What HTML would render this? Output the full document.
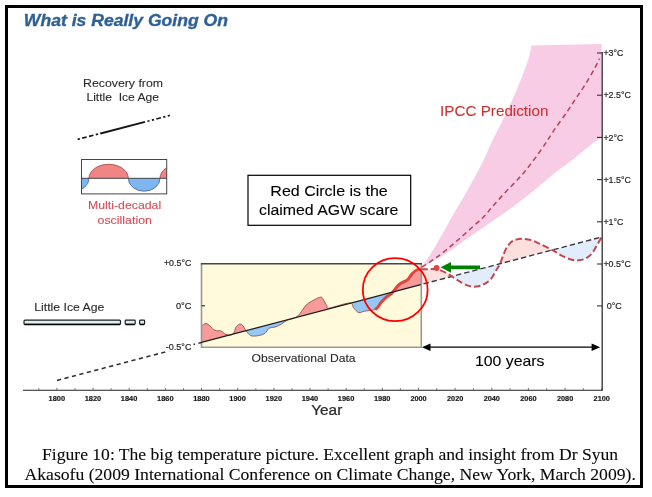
<!DOCTYPE html>
<html><head><meta charset="utf-8"><title>What is Really Going On</title>
<style>
html,body{margin:0;padding:0;background:#fff;}
body{width:652px;height:497px;overflow:hidden;position:relative;}
#frame{position:absolute;left:5px;top:5px;width:632px;height:477px;border:3px solid #000;background:#fff;}
svg{position:absolute;left:0;top:0;}
svg text{font-family:"Liberation Sans",Arial,Helvetica,sans-serif;}
svg text.sf{font-family:"Liberation Serif","Times New Roman",Times,serif;}
</style></head><body>
<div id="frame"></div>
<svg width="652" height="497" viewBox="0 0 652 497">
<defs>
<clipPath id="above"><polygon points="0,0 652,0 652,223.8 0,395.5"/></clipPath>
<clipPath id="below"><polygon points="0,497 652,497 652,223.8 0,395.5"/></clipPath>
<clipPath id="lga"><rect x="81.5" y="159.5" width="85.2" height="18.8"/></clipPath>
<clipPath id="lgb"><rect x="81.5" y="178.3" width="85.2" height="15.2"/></clipPath>
<filter id="soft" x="0" y="0" width="652" height="497" filterUnits="userSpaceOnUse"><feGaussianBlur stdDeviation="0.45"/></filter>
</defs>
<g filter="url(#soft)">

<!-- legend: recovery -->
<line x1="77.6" y1="139.4" x2="101" y2="133.3" stroke="#151515" stroke-width="1.7" stroke-dasharray="2.4 2.4 4.6 2.4 4.6 2.4 2.4 2.4"/>
<line x1="100.5" y1="133.45" x2="145" y2="121.9" stroke="#151515" stroke-width="2"/>
<line x1="147.4" y1="121.3" x2="170" y2="115.4" stroke="#151515" stroke-width="1.7" stroke-dasharray="2.2 2.4 2.2 2.4 4.8 2.4 2.2 2.4 2.2 2.4"/>

<!-- legend: oscillation -->
<g>
<g clip-path="url(#lgb)" stroke-width="0.9" fill="#7db6f0" stroke="#4f6ca6">
<ellipse cx="73.2" cy="178.3" rx="15.8" ry="12.9"/>
<ellipse cx="144.15" cy="178.3" rx="15.85" ry="12.9"/>
</g>
<g clip-path="url(#lga)" stroke-width="0.9" fill="#f08585" stroke="#a84c4c">
<ellipse cx="108.65" cy="178.3" rx="19.65" ry="14"/>
<ellipse cx="179.65" cy="178.3" rx="19.65" ry="14"/>
</g>
<rect x="81.5" y="159.5" width="85.2" height="34.4" fill="none" stroke="#444" stroke-width="1"/>
<line x1="81.5" y1="178.3" x2="166.7" y2="178.3" stroke="#444" stroke-width="1"/>
</g>

<!-- IPCC fan -->
<path d="M421.7 266.8C422.6 265.5 427.9 258.1 429.6 255.5C431.3 252.9 434.6 247.4 436.4 244.4C438.2 241.4 442.8 233.4 444.7 230.0C446.6 226.6 450.6 219.0 452.9 215.0C455.2 211.0 461.6 200.6 464.2 196.0C466.8 191.4 473.1 180.2 475.4 176.0C477.7 171.8 481.6 164.1 483.6 160.0C485.6 155.9 490.4 144.9 492.5 140.5C494.6 136.1 499.5 126.8 501.8 122.1C504.1 117.4 510.4 104.0 512.2 100.0C514.0 96.0 516.3 91.0 517.5 88.0C518.7 85.0 521.8 77.1 522.9 74.4C524.0 71.7 525.9 66.6 526.6 64.5C527.3 62.4 528.7 58.2 529.3 56.0C529.9 53.8 531.2 46.7 531.5 45.5L601.7 44 L601.7 137.6 L601.7 137.6C600.5 138.4 593.9 142.5 591.3 144.5C588.7 146.5 582.0 152.1 579.1 154.4C576.2 156.7 569.2 162.4 566.8 164.2C564.4 166.0 561.5 167.7 558.5 170.0C555.5 172.3 544.7 181.4 541.3 184.3C537.9 187.2 532.0 192.2 529.1 194.5C526.2 196.8 519.7 201.5 516.8 203.7C513.9 205.9 506.7 211.4 504.5 213.0C502.3 214.6 500.0 216.0 497.8 217.5C495.6 219.0 488.4 224.0 485.5 226.0C482.6 228.0 476.1 232.6 473.2 234.6C470.3 236.6 463.9 241.2 461.0 243.2C458.1 245.2 451.6 249.9 448.7 251.8C445.8 253.7 439.5 257.3 436.4 259.2C433.2 261.1 423.4 266.8 421.7 267.8Z" fill="#f8cce4"/>

<!-- yellow box -->
<rect x="201.5" y="263.7" width="219.8" height="83.4" fill="#fffadb"/>

<!-- future oscillation fills -->
<path d="M421.3 269.3C422.6 269.3 426.3 269.2 429.0 269.2C431.7 269.2 434.6 268.6 437.6 269.3C440.6 270.0 444.0 271.9 446.8 273.4C449.6 274.8 451.8 276.5 454.2 278.0C456.6 279.5 459.1 281.3 461.5 282.6C463.9 283.9 466.4 285.2 468.9 285.9C471.4 286.6 473.9 286.9 476.3 286.6C478.8 286.4 481.2 285.7 483.6 284.4C486.1 283.1 488.9 281.3 491.0 278.9C493.1 276.4 495.0 272.3 496.5 269.7C498.0 267.1 498.7 266.7 500.2 263.3C501.7 259.9 503.9 252.9 505.7 249.4C507.5 245.9 509.5 243.7 511.2 242.1C512.9 240.5 514.2 240.2 516.0 239.6C517.8 239.0 519.6 238.6 522.1 238.7C524.6 238.8 528.2 239.2 531.3 240.1C534.4 241.0 536.8 242.4 540.5 244.2C544.2 245.9 549.7 248.6 553.4 250.6C557.1 252.6 559.5 254.6 562.6 256.1C565.7 257.6 569.3 259.1 571.8 259.8C574.2 260.5 575.1 260.5 577.3 260.4C579.4 260.2 582.2 260.1 584.7 258.9C587.2 257.7 589.9 255.8 592.0 253.4C594.1 251.0 595.8 247.0 597.5 244.2C599.2 241.4 601.2 238.0 602.0 236.8L602.0 236.9 L421.3 284.5 Z" fill="#fbe0de" clip-path="url(#above)"/>
<path d="M421.3 269.3C422.6 269.3 426.3 269.2 429.0 269.2C431.7 269.2 434.6 268.6 437.6 269.3C440.6 270.0 444.0 271.9 446.8 273.4C449.6 274.8 451.8 276.5 454.2 278.0C456.6 279.5 459.1 281.3 461.5 282.6C463.9 283.9 466.4 285.2 468.9 285.9C471.4 286.6 473.9 286.9 476.3 286.6C478.8 286.4 481.2 285.7 483.6 284.4C486.1 283.1 488.9 281.3 491.0 278.9C493.1 276.4 495.0 272.3 496.5 269.7C498.0 267.1 498.7 266.7 500.2 263.3C501.7 259.9 503.9 252.9 505.7 249.4C507.5 245.9 509.5 243.7 511.2 242.1C512.9 240.5 514.2 240.2 516.0 239.6C517.8 239.0 519.6 238.6 522.1 238.7C524.6 238.8 528.2 239.2 531.3 240.1C534.4 241.0 536.8 242.4 540.5 244.2C544.2 245.9 549.7 248.6 553.4 250.6C557.1 252.6 559.5 254.6 562.6 256.1C565.7 257.6 569.3 259.1 571.8 259.8C574.2 260.5 575.1 260.5 577.3 260.4C579.4 260.2 582.2 260.1 584.7 258.9C587.2 257.7 589.9 255.8 592.0 253.4C594.1 251.0 595.8 247.0 597.5 244.2C599.2 241.4 601.2 238.0 602.0 236.8L602.0 236.9 L421.3 284.5 Z" fill="#e1edfa" clip-path="url(#below)"/>

<!-- observed fills -->
<path d="M201.5 326.0C202.2 325.6 204.6 323.5 206.0 323.5C207.4 323.5 208.5 324.8 210.0 326.0C211.5 327.2 213.4 329.7 215.2 330.5C217.0 331.3 219.1 330.3 220.8 330.9C222.5 331.5 223.9 333.5 225.4 334.2C226.9 334.9 228.6 335.2 230.0 335.1C231.4 335.0 232.5 334.7 233.6 333.3C234.7 331.9 235.3 328.1 236.4 326.5C237.5 324.9 239.0 324.1 240.1 324.0C241.2 323.9 242.3 324.9 243.2 326.0C244.1 327.1 244.7 329.2 245.6 330.5C246.5 331.8 247.3 332.7 248.4 333.6C249.5 334.5 250.2 335.7 252.0 336.0C253.8 336.3 257.2 335.9 259.4 335.5C261.6 335.1 263.5 334.4 265.0 333.3C266.5 332.2 267.4 329.7 268.6 328.7C269.8 327.7 271.1 327.7 272.3 327.4C273.5 327.1 274.5 327.4 276.0 326.8C277.5 326.2 279.7 325.1 281.5 324.0C283.3 322.9 284.7 321.5 287.0 320.4C289.3 319.3 293.1 318.8 295.3 317.6C297.5 316.5 298.1 315.6 300.0 313.5C301.9 311.4 303.9 307.2 306.4 304.8C308.9 302.4 312.7 300.7 315.0 299.4C317.3 298.1 319.1 297.4 320.4 297.2C321.6 297.0 321.4 296.9 322.5 298.3C323.6 299.7 325.7 304.2 326.8 305.8C327.9 307.4 325.2 308.7 329.0 308.2C332.8 307.7 345.3 303.0 349.4 303.0C353.5 303.0 352.1 306.4 353.7 308.0C355.3 309.6 357.2 312.2 359.0 312.7C360.8 313.2 361.7 311.7 364.4 311.2C367.1 310.7 373.0 310.4 375.3 309.6C377.6 308.9 377.3 307.9 378.3 306.7C379.3 305.4 380.1 303.6 381.4 302.1C382.7 300.6 384.2 299.0 386.0 297.5C387.8 296.0 390.1 294.9 392.1 292.9C394.2 290.9 396.8 286.9 398.3 285.3C399.8 283.7 399.8 283.9 401.3 283.0C402.8 282.1 405.7 281.4 407.5 279.9C409.3 278.4 410.6 275.4 412.1 273.8C413.6 272.2 415.2 270.8 416.7 270.0C418.2 269.2 420.5 269.3 421.3 269.2L421.3 284.5 L201.5 342.4 Z" fill="#f69a9a" clip-path="url(#above)"/>
<path d="M201.5 326.0C202.2 325.6 204.6 323.5 206.0 323.5C207.4 323.5 208.5 324.8 210.0 326.0C211.5 327.2 213.4 329.7 215.2 330.5C217.0 331.3 219.1 330.3 220.8 330.9C222.5 331.5 223.9 333.5 225.4 334.2C226.9 334.9 228.6 335.2 230.0 335.1C231.4 335.0 232.5 334.7 233.6 333.3C234.7 331.9 235.3 328.1 236.4 326.5C237.5 324.9 239.0 324.1 240.1 324.0C241.2 323.9 242.3 324.9 243.2 326.0C244.1 327.1 244.7 329.2 245.6 330.5C246.5 331.8 247.3 332.7 248.4 333.6C249.5 334.5 250.2 335.7 252.0 336.0C253.8 336.3 257.2 335.9 259.4 335.5C261.6 335.1 263.5 334.4 265.0 333.3C266.5 332.2 267.4 329.7 268.6 328.7C269.8 327.7 271.1 327.7 272.3 327.4C273.5 327.1 274.5 327.4 276.0 326.8C277.5 326.2 279.7 325.1 281.5 324.0C283.3 322.9 284.7 321.5 287.0 320.4C289.3 319.3 293.1 318.8 295.3 317.6C297.5 316.5 298.1 315.6 300.0 313.5C301.9 311.4 303.9 307.2 306.4 304.8C308.9 302.4 312.7 300.7 315.0 299.4C317.3 298.1 319.1 297.4 320.4 297.2C321.6 297.0 321.4 296.9 322.5 298.3C323.6 299.7 325.7 304.2 326.8 305.8C327.9 307.4 325.2 308.7 329.0 308.2C332.8 307.7 345.3 303.0 349.4 303.0C353.5 303.0 352.1 306.4 353.7 308.0C355.3 309.6 357.2 312.2 359.0 312.7C360.8 313.2 361.7 311.7 364.4 311.2C367.1 310.7 373.0 310.4 375.3 309.6C377.6 308.9 377.3 307.9 378.3 306.7C379.3 305.4 380.1 303.6 381.4 302.1C382.7 300.6 384.2 299.0 386.0 297.5C387.8 296.0 390.1 294.9 392.1 292.9C394.2 290.9 396.8 286.9 398.3 285.3C399.8 283.7 399.8 283.9 401.3 283.0C402.8 282.1 405.7 281.4 407.5 279.9C409.3 278.4 410.6 275.4 412.1 273.8C413.6 272.2 415.2 270.8 416.7 270.0C418.2 269.2 420.5 269.3 421.3 269.2L421.3 284.5 L201.5 342.4 Z" fill="#94c6f6" clip-path="url(#below)"/>
<path d="M201.5 326.0C202.2 325.6 204.6 323.5 206.0 323.5C207.4 323.5 208.5 324.8 210.0 326.0C211.5 327.2 213.4 329.7 215.2 330.5C217.0 331.3 219.1 330.3 220.8 330.9C222.5 331.5 223.9 333.5 225.4 334.2C226.9 334.9 228.6 335.2 230.0 335.1C231.4 335.0 232.5 334.7 233.6 333.3C234.7 331.9 235.3 328.1 236.4 326.5C237.5 324.9 239.0 324.1 240.1 324.0C241.2 323.9 242.3 324.9 243.2 326.0C244.1 327.1 244.7 329.2 245.6 330.5C246.5 331.8 247.3 332.7 248.4 333.6C249.5 334.5 250.2 335.7 252.0 336.0C253.8 336.3 257.2 335.9 259.4 335.5C261.6 335.1 263.5 334.4 265.0 333.3C266.5 332.2 267.4 329.7 268.6 328.7C269.8 327.7 271.1 327.7 272.3 327.4C273.5 327.1 274.5 327.4 276.0 326.8C277.5 326.2 279.7 325.1 281.5 324.0C283.3 322.9 284.7 321.5 287.0 320.4C289.3 319.3 293.1 318.8 295.3 317.6C297.5 316.5 298.1 315.6 300.0 313.5C301.9 311.4 303.9 307.2 306.4 304.8C308.9 302.4 312.7 300.7 315.0 299.4C317.3 298.1 319.1 297.4 320.4 297.2C321.6 297.0 321.4 296.9 322.5 298.3C323.6 299.7 325.7 304.2 326.8 305.8C327.9 307.4 325.2 308.7 329.0 308.2C332.8 307.7 345.3 303.0 349.4 303.0C353.5 303.0 352.1 306.4 353.7 308.0C355.3 309.6 357.2 312.2 359.0 312.7C360.8 313.2 361.7 311.7 364.4 311.2C367.1 310.7 373.0 310.4 375.3 309.6C377.6 308.9 377.3 307.9 378.3 306.7C379.3 305.4 380.1 303.6 381.4 302.1C382.7 300.6 384.2 299.0 386.0 297.5C387.8 296.0 390.1 294.9 392.1 292.9C394.2 290.9 396.8 286.9 398.3 285.3C399.8 283.7 399.8 283.9 401.3 283.0C402.8 282.1 405.7 281.4 407.5 279.9C409.3 278.4 410.6 275.4 412.1 273.8C413.6 272.2 415.2 270.8 416.7 270.0C418.2 269.2 420.5 269.3 421.3 269.2" fill="none" stroke="#935050" stroke-width="0.9"/>
<path d="M375.3 309.6C375.8 309.1 377.3 307.9 378.3 306.7C379.3 305.4 380.1 303.6 381.4 302.1C382.7 300.6 384.2 299.0 386.0 297.5C387.8 296.0 390.1 294.9 392.1 292.9C394.2 290.9 396.8 286.9 398.3 285.3C399.8 283.7 399.8 283.9 401.3 283.0C402.8 282.1 405.7 281.4 407.5 279.9C409.3 278.4 410.6 275.4 412.1 273.8C413.6 272.2 415.2 270.8 416.7 270.0C418.2 269.2 420.5 269.3 421.3 269.2" fill="none" stroke="#e0443e" stroke-width="3" stroke-linejoin="round"/>

<!-- box border -->
<path d="M201.5 263.7 V347.2 H421.3 V263.7" fill="none" stroke="#999990" stroke-width="1.6"/>
<line x1="200.8" y1="263.7" x2="422" y2="263.7" stroke="#444" stroke-width="1.4"/>
<line x1="201.5" y1="305.8" x2="205" y2="305.8" stroke="#333" stroke-width="1.2"/>

<!-- trend line -->
<line x1="57" y1="380.4" x2="201.5" y2="342.4" stroke="#333" stroke-width="1.6" stroke-dasharray="4.2 3.5"/>
<rect x="165" y="343.3" width="28.5" height="8.4" fill="#fff"/>
<line x1="201.5" y1="342.4" x2="420.8" y2="284.7" stroke="#1c1c1c" stroke-width="1.25"/>
<line x1="423.5" y1="283.9" x2="602" y2="236.9" stroke="#33363c" stroke-width="1.35" stroke-dasharray="5.4 3"/>

<!-- future dashed curves -->
<path d="M421.3 269.3C422.6 269.3 426.3 269.2 429.0 269.2C431.7 269.2 434.6 268.6 437.6 269.3C440.6 270.0 444.0 271.9 446.8 273.4C449.6 274.8 451.8 276.5 454.2 278.0C456.6 279.5 459.1 281.3 461.5 282.6C463.9 283.9 466.4 285.2 468.9 285.9C471.4 286.6 473.9 286.9 476.3 286.6C478.8 286.4 481.2 285.7 483.6 284.4C486.1 283.1 488.9 281.3 491.0 278.9C493.1 276.4 495.0 272.3 496.5 269.7C498.0 267.1 498.7 266.7 500.2 263.3C501.7 259.9 503.9 252.9 505.7 249.4C507.5 245.9 509.5 243.7 511.2 242.1C512.9 240.5 514.2 240.2 516.0 239.6C517.8 239.0 519.6 238.6 522.1 238.7C524.6 238.8 528.2 239.2 531.3 240.1C534.4 241.0 536.8 242.4 540.5 244.2C544.2 245.9 549.7 248.6 553.4 250.6C557.1 252.6 559.5 254.6 562.6 256.1C565.7 257.6 569.3 259.1 571.8 259.8C574.2 260.5 575.1 260.5 577.3 260.4C579.4 260.2 582.2 260.1 584.7 258.9C587.2 257.7 589.9 255.8 592.0 253.4C594.1 251.0 595.8 247.0 597.5 244.2C599.2 241.4 601.2 238.0 602.0 236.8" fill="none" stroke="#c4454f" stroke-width="2" stroke-dasharray="6.5 3"/>
<path d="M421.8 267.2C423.8 265.9 429.9 262.1 434.0 259.2C438.1 256.3 442.1 253.3 446.2 250.0C450.3 246.7 454.4 243.1 458.5 239.5C462.6 235.9 466.7 232.2 470.8 228.5C474.9 224.8 479.4 221.1 483.0 217.5C486.6 213.9 488.9 210.6 492.3 206.8C495.7 203.0 499.4 198.7 503.3 194.5C507.2 190.3 511.8 185.8 515.6 181.7C519.4 177.6 521.5 175.6 526.0 170.0C530.5 164.4 537.8 154.6 542.3 148.2C546.8 141.8 549.1 137.5 553.3 131.4C557.4 125.3 563.4 117.2 567.2 111.6C571.0 106.0 573.2 102.5 576.2 98.0C579.2 93.5 582.3 89.2 585.3 84.4C588.3 79.6 591.9 73.3 594.3 69.0C596.7 64.7 598.7 60.3 599.6 58.6" fill="none" stroke="#b8425c" stroke-width="1.55" stroke-dasharray="5 3.6"/>
<circle cx="436.6" cy="268" r="2.9" fill="#e0424a"/>

<text transform="translate(23.87 25.80) scale(1.0465 1)" font-size="16.8" fill="#2f6196" font-weight="bold" font-style="italic" stroke="#2f6196" stroke-width="0.35">What is Really Going On</text>
<text transform="translate(83.01 86.70) scale(1.0436 1)" font-size="11.8" fill="#2a2a2a" stroke="#2a2a2a" stroke-width="0.1">Recovery from</text>
<text transform="translate(86.43 101.00) scale(1.0239 1)" font-size="11.8" fill="#2a2a2a" stroke="#2a2a2a" stroke-width="0.1" xml:space="preserve">Little  Ice Age</text>
<text transform="translate(88.01 209.30) scale(1.0438 1)" font-size="11.8" fill="#d64a55" stroke="#d64a55" stroke-width="0.1">Multi-decadal</text>
<text transform="translate(97.50 223.90) scale(1.0517 1)" font-size="11.8" fill="#d64a55" stroke="#d64a55" stroke-width="0.1">oscillation</text>
<text transform="translate(440.03 115.90) scale(1.0028 1)" font-size="15.2" fill="#cc3333" stroke="#cc3333" stroke-width="0.1">IPCC Prediction</text>
<text transform="translate(34.32 310.90) scale(1.0352 1)" font-size="11.8" fill="#2a2a2a" stroke="#2a2a2a" stroke-width="0.1">Little Ice Age</text>
<text transform="translate(251.61 361.80) scale(1.0290 1)" font-size="11.8" fill="#2a2a2a" stroke="#2a2a2a" stroke-width="0.1">Observational Data</text>
<text transform="translate(311.19 415.00) scale(1.0545 1)" font-size="14.6" fill="#2a2a2a" stroke="#2a2a2a" stroke-width="0.25">Year</text>
<text transform="translate(163.95 266.20) scale(1.0187 1)" font-size="8.7" fill="#222" stroke="#222" stroke-width="0.18">+0.5°C</text>
<text transform="translate(175.92 309.30) scale(1.0598 1)" font-size="8.7" fill="#222" stroke="#222" stroke-width="0.18">0°C</text>
<text transform="translate(165.84 350.30) scale(1.0321 1)" font-size="8.7" fill="#222" stroke="#222" stroke-width="0.18">-0.5°C</text>
<text transform="translate(603.45 56.20) scale(1.0129 1)" font-size="8.7" fill="#222" stroke="#222" stroke-width="0.18">+3°C</text>
<text transform="translate(603.44 98.40) scale(1.0225 1)" font-size="8.7" fill="#222" stroke="#222" stroke-width="0.18">+2.5°C</text>
<text transform="translate(603.45 140.60) scale(1.0129 1)" font-size="8.7" fill="#222" stroke="#222" stroke-width="0.18">+2°C</text>
<text transform="translate(603.44 182.80) scale(1.0225 1)" font-size="8.7" fill="#222" stroke="#222" stroke-width="0.18">+1.5°C</text>
<text transform="translate(603.45 225.00) scale(1.0129 1)" font-size="8.7" fill="#222" stroke="#222" stroke-width="0.18">+1°C</text>
<text transform="translate(603.44 267.20) scale(1.0225 1)" font-size="8.7" fill="#222" stroke="#222" stroke-width="0.18">+0.5°C</text>
<text transform="translate(606.73 309.10) scale(1.0384 1)" font-size="8.7" fill="#222" stroke="#222" stroke-width="0.18">0°C</text>
<text transform="translate(48.55 400.70) scale(1.0031 1)" font-size="7.4" fill="#1a1a1a" font-weight="bold" stroke="#1a1a1a" stroke-width="0.2">1800</text>
<text transform="translate(84.71 400.70) scale(1.0031 1)" font-size="7.4" fill="#1a1a1a" font-weight="bold" stroke="#1a1a1a" stroke-width="0.2">1820</text>
<text transform="translate(120.87 400.70) scale(1.0031 1)" font-size="7.4" fill="#1a1a1a" font-weight="bold" stroke="#1a1a1a" stroke-width="0.2">1840</text>
<text transform="translate(157.03 400.70) scale(1.0031 1)" font-size="7.4" fill="#1a1a1a" font-weight="bold" stroke="#1a1a1a" stroke-width="0.2">1860</text>
<text transform="translate(193.19 400.70) scale(1.0031 1)" font-size="7.4" fill="#1a1a1a" font-weight="bold" stroke="#1a1a1a" stroke-width="0.2">1880</text>
<text transform="translate(229.35 400.70) scale(1.0031 1)" font-size="7.4" fill="#1a1a1a" font-weight="bold" stroke="#1a1a1a" stroke-width="0.2">1900</text>
<text transform="translate(265.51 400.70) scale(1.0031 1)" font-size="7.4" fill="#1a1a1a" font-weight="bold" stroke="#1a1a1a" stroke-width="0.2">1920</text>
<text transform="translate(301.67 400.70) scale(1.0031 1)" font-size="7.4" fill="#1a1a1a" font-weight="bold" stroke="#1a1a1a" stroke-width="0.2">1940</text>
<text transform="translate(337.83 400.70) scale(1.0031 1)" font-size="7.4" fill="#1a1a1a" font-weight="bold" stroke="#1a1a1a" stroke-width="0.2">1960</text>
<text transform="translate(373.99 400.70) scale(1.0031 1)" font-size="7.4" fill="#1a1a1a" font-weight="bold" stroke="#1a1a1a" stroke-width="0.2">1980</text>
<text transform="translate(410.38 400.70) scale(0.9892 1)" font-size="7.4" fill="#1a1a1a" font-weight="bold" stroke="#1a1a1a" stroke-width="0.2">2000</text>
<text transform="translate(447.02 400.70) scale(0.9892 1)" font-size="7.4" fill="#1a1a1a" font-weight="bold" stroke="#1a1a1a" stroke-width="0.2">2020</text>
<text transform="translate(483.66 400.70) scale(0.9892 1)" font-size="7.4" fill="#1a1a1a" font-weight="bold" stroke="#1a1a1a" stroke-width="0.2">2040</text>
<text transform="translate(520.30 400.70) scale(0.9892 1)" font-size="7.4" fill="#1a1a1a" font-weight="bold" stroke="#1a1a1a" stroke-width="0.2">2060</text>
<text transform="translate(556.94 400.70) scale(0.9892 1)" font-size="7.4" fill="#1a1a1a" font-weight="bold" stroke="#1a1a1a" stroke-width="0.2">2080</text>
<text transform="translate(593.58 400.70) scale(0.9892 1)" font-size="7.4" fill="#1a1a1a" font-weight="bold" stroke="#1a1a1a" stroke-width="0.2">2100</text>

</g>
<!-- red circle -->
<ellipse cx="395.2" cy="289.7" rx="32.4" ry="31.5" fill="none" stroke="#f00" stroke-width="1.8"/>

<!-- green arrow -->
<polygon points="440.6,267.3 451,262 451,265.4 480,265.4 480,269.2 451,269.2 451,272.7" fill="#008000"/>

<g filter="url(#soft)">
<!-- right axis -->
<line x1="602.2" y1="52" x2="602.2" y2="390.2" stroke="#3c3c3c" stroke-width="1.4"/>
<g stroke="#333" stroke-width="1.1"><line x1="597" y1="53.0" x2="602.2" y2="53.0"/><line x1="597" y1="95.2" x2="602.2" y2="95.2"/><line x1="597" y1="137.4" x2="602.2" y2="137.4"/><line x1="597" y1="179.6" x2="602.2" y2="179.6"/><line x1="597" y1="221.8" x2="602.2" y2="221.8"/><line x1="597" y1="264.0" x2="602.2" y2="264.0"/><line x1="597" y1="305.9" x2="602.2" y2="305.9"/></g>

<!-- x axis -->
<line x1="23" y1="390.3" x2="602.8" y2="390.3" stroke="#222" stroke-width="1.1"/>
<g stroke="#555" stroke-width="0.8"><line x1="38.8" y1="390.2" x2="38.8" y2="388.2"/><line x1="56.9" y1="390.2" x2="56.9" y2="387.8"/><line x1="75.0" y1="390.2" x2="75.0" y2="388.2"/><line x1="93.1" y1="390.2" x2="93.1" y2="387.8"/><line x1="111.1" y1="390.2" x2="111.1" y2="388.2"/><line x1="129.2" y1="390.2" x2="129.2" y2="387.8"/><line x1="147.3" y1="390.2" x2="147.3" y2="388.2"/><line x1="165.4" y1="390.2" x2="165.4" y2="387.8"/><line x1="183.5" y1="390.2" x2="183.5" y2="388.2"/><line x1="201.5" y1="390.2" x2="201.5" y2="387.8"/><line x1="219.6" y1="390.2" x2="219.6" y2="388.2"/><line x1="237.7" y1="390.2" x2="237.7" y2="387.8"/><line x1="255.8" y1="390.2" x2="255.8" y2="388.2"/><line x1="273.9" y1="390.2" x2="273.9" y2="387.8"/><line x1="291.9" y1="390.2" x2="291.9" y2="388.2"/><line x1="310.0" y1="390.2" x2="310.0" y2="387.8"/><line x1="328.1" y1="390.2" x2="328.1" y2="388.2"/><line x1="346.2" y1="390.2" x2="346.2" y2="387.8"/><line x1="364.3" y1="390.2" x2="364.3" y2="388.2"/><line x1="382.3" y1="390.2" x2="382.3" y2="387.8"/><line x1="400.4" y1="390.2" x2="400.4" y2="388.2"/><line x1="418.5" y1="390.2" x2="418.5" y2="387.8"/><line x1="436.8" y1="390.2" x2="436.8" y2="388.2"/><line x1="455.1" y1="390.2" x2="455.1" y2="387.8"/><line x1="473.5" y1="390.2" x2="473.5" y2="388.2"/><line x1="491.8" y1="390.2" x2="491.8" y2="387.8"/><line x1="510.1" y1="390.2" x2="510.1" y2="388.2"/><line x1="528.4" y1="390.2" x2="528.4" y2="387.8"/><line x1="546.7" y1="390.2" x2="546.7" y2="388.2"/><line x1="565.1" y1="390.2" x2="565.1" y2="387.8"/><line x1="583.4" y1="390.2" x2="583.4" y2="388.2"/><line x1="601.7" y1="390.2" x2="601.7" y2="387.8"/></g>

<!-- little ice age -->
<g fill="#dbf0ee" stroke="#1c2222" stroke-width="1.2">
<rect x="24" y="320.2" width="96.5" height="4.2" rx="1"/>
<rect x="125.2" y="320.2" width="10" height="4.2" rx="0.8"/>
<rect x="139.6" y="320.2" width="5" height="4.2" rx="0.8"/>
</g>
<path d="M24.5 324.5H120 M125.7 324.5H134.7 M140 324.5H144.2" stroke="#000" stroke-width="1.3" fill="none"/>

</g>
<!-- 100 years arrow -->
<line x1="428" y1="347.2" x2="594" y2="347.2" stroke="#000" stroke-width="1.3"/>
<polygon points="421.9,347.2 430.5,343.4 430.5,351" fill="#000"/>
<polygon points="600.2,347.2 591.6,343.4 591.6,351" fill="#000"/>

<!-- center box -->
<rect x="248" y="175.3" width="162.7" height="50" fill="#fff" stroke="#000" stroke-width="1.2"/>

<!-- text -->
<text transform="translate(270.32 195.90) scale(1.0828 1)" font-size="14.8" fill="#000" stroke="#000" stroke-width="0.1">Red Circle is the</text>
<text transform="translate(258.96 214.80) scale(1.0738 1)" font-size="14.8" fill="#000" stroke="#000" stroke-width="0.1">claimed AGW scare</text>
<text transform="translate(474.89 365.90) scale(1.0706 1)" font-size="14.8" fill="#000" stroke="#000" stroke-width="0.1">100 years</text>
<text transform="translate(42.05 459.50) scale(1.0462 1)" font-size="16.8" fill="#0a0a0a" class="sf" stroke="#0a0a0a" stroke-width="0.1">Figure 10: The big temperature picture. Excellent graph and insight from Dr Syun</text>
<text transform="translate(24.50 479.60) scale(1.0506 1)" font-size="16.8" fill="#0a0a0a" class="sf" stroke="#0a0a0a" stroke-width="0.1">Akasofu (2009 International Conference on Climate Change, New York, March 2009).</text>

</svg>
</body></html>
